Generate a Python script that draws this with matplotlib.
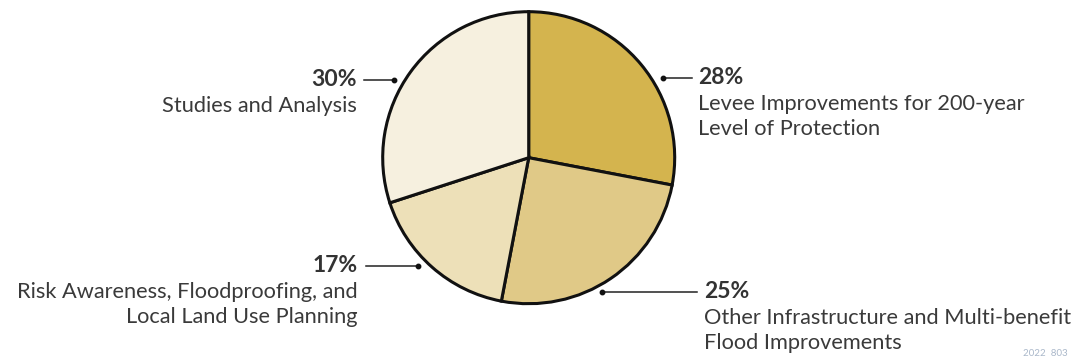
import matplotlib
matplotlib.use("Agg")
import matplotlib.pyplot as plt

# Données du graphique
labels = [["Levee Improvements for 200-year", "Level of Protection"],
          ["Other Infrastructure and Multi-benefit", "Flood Improvements"],
          ["Risk Awareness, Floodproofing, and", "Local Land Use Planning"],
          ["Studies and Analysis"]]
shares = [28, 25, 17, 30]
colors = ["#D4B44E", "#E0C987", "#EDE0B8", "#F6F0DF"]

plt.rcParams["font.family"] = ["Lato", "DejaVu Sans"]

W, H = 1081, 362
fig = plt.figure(figsize=(W / 100, H / 100), dpi=100)
ax = fig.add_axes([0, 0, 1, 1])

cx, cy, r = 528.7, H - 157.7, 146
ax.pie(shares, colors=colors, startangle=90, counterclock=False,
       center=(cx, cy), radius=r, frame=True,
       wedgeprops=dict(edgecolor="#111111", linewidth=2.2))
ax.set_xlim(0, W)
ax.set_ylim(0, H)
ax.set_aspect("equal")
ax.axis("off")

# annotations : point (px), fin de ligne, x du texte, alignement
dots = [(663, 78), (602, 292), (418, 266), (394, 80)]
line_ends = [692, 697, 366, 364]
text_x = [698, 704, 358, 357]
aligns = ["left", "left", "right", "right"]

txt_col = "#333333"
for (dx, dy), lx, tx, ha, s, lab in zip(dots, line_ends, text_x, aligns, shares, labels):
    y = H - dy
    ax.plot([dx, lx], [y, y], color="#222222", lw=1.1)
    ax.plot(dx, y, "o", color="#111111", ms=3.2)
    ax.text(tx, y, f"{s}%", ha=ha, va="center", fontsize=16.5,
            fontweight="bold", color=txt_col)
    for i, line in enumerate(lab):
        ax.text(tx, y - 26 - 25 * i, line, ha=ha, va="center", fontsize=15.7,
                color="#3a3a3a")

ax.text(1068, 8, "2022  803", ha="right", va="center", fontsize=7,
        color="#AAB8CA")

fig.savefig("out.png", dpi=100)
